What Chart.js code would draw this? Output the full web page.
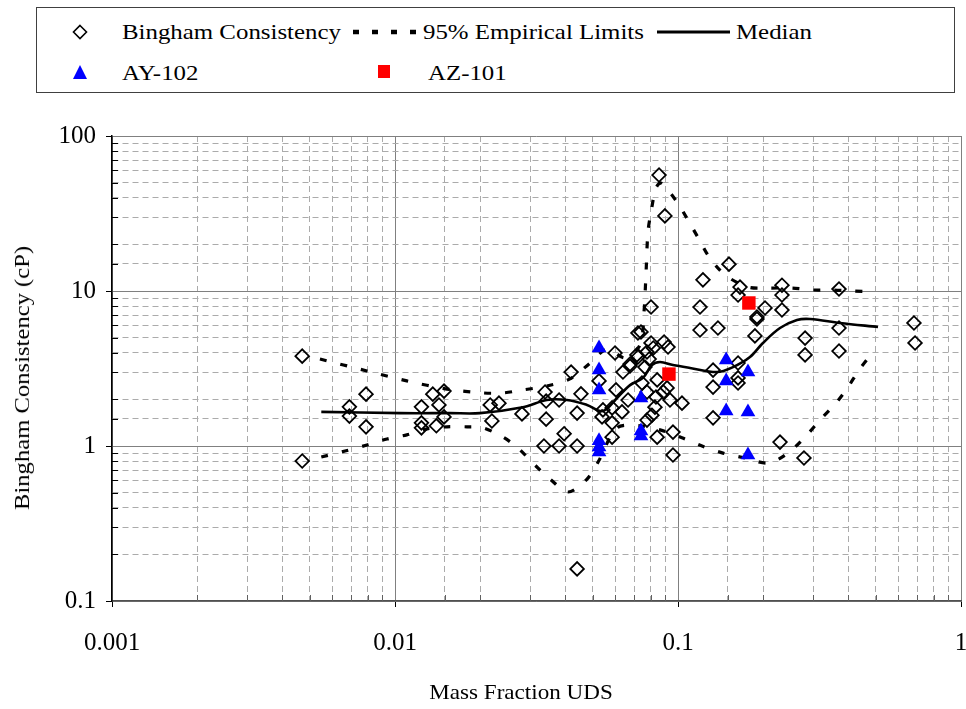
<!DOCTYPE html>
<html>
<head>
<meta charset="utf-8">
<script src="https://cdn.jsdelivr.net/npm/chart.js@4.4.1/dist/chart.umd.min.js"></script>
<style>
  html, body { margin: 0; padding: 0; background: #fff; }
  #wrap { position: relative; width: 966px; height: 709px; overflow: hidden;
          font-family: "Liberation Serif", "Times New Roman", serif; color: #000; }
  #chart { position: absolute; left: 0; top: 0; }
  .legend { position: absolute; left: 36px; top: 7px; width: 919px; height: 86px;
            border: 1px solid #404040; box-sizing: border-box; background: #fff; }
  .txt { position: absolute; font-size: 22px; line-height: 22px; white-space: nowrap;
         transform-origin: 0 50%; transform: translateY(-50%) scaleX(1.13); }
  .mk { position: absolute; overflow: visible; }
  .axt { position: absolute; font-size: 22px; line-height: 22px; white-space: nowrap; }
</style>
</head>
<body>
<div id="wrap">
  <canvas id="chart" width="966" height="709"></canvas>

  <div class="legend"></div>
  <!-- legend, row 1 -->
  <svg class="mk" style="left:72px;top:24px" width="16" height="16">
    <polygon points="8,1.5 14.5,8 8,14.5 1.5,8" fill="#fff" stroke="#000" stroke-width="1.6"/>
  </svg>
  <div class="txt" style="left:122px;top:32px">Bingham Consistency</div>
  <svg class="mk" style="left:350px;top:28px" width="74" height="8">
    <line x1="3" y1="4" x2="72" y2="4" stroke="#000" stroke-width="4.5" stroke-dasharray="6 13"/>
  </svg>
  <div class="txt" style="left:423px;top:32px">95% Empirical Limits</div>
  <svg class="mk" style="left:657px;top:29px" width="74" height="6">
    <line x1="0" y1="3" x2="73" y2="3" stroke="#000" stroke-width="3"/>
  </svg>
  <div class="txt" style="left:736px;top:32px">Median</div>
  <!-- legend, row 2 -->
  <svg class="mk" style="left:72px;top:64px" width="16" height="16">
    <polygon points="8,1 15,15 1,15" fill="#0000ff"/>
  </svg>
  <div class="txt" style="left:122px;top:73px">AY-102</div>
  <svg class="mk" style="left:378px;top:65px" width="12" height="13">
    <rect x="0" y="0" width="12" height="13" fill="#ff0000"/>
  </svg>
  <div class="txt" style="left:428px;top:73px">AZ-101</div>

  <!-- axis titles -->
  <div class="axt" id="ytitle" style="left:22px;top:378px;transform:translate(-50%,-50%) rotate(-90deg) scaleX(1.12)">Bingham Consistency (cP)</div>
  <div class="axt" id="xtitle" style="left:521px;top:692px;transform:translate(-50%,-50%) scaleX(1.05)">Mass Fraction UDS</div>
</div>

<script>
// Measured Bingham consistency (cP) against undissolved solids mass fraction
const binghamX = [
  0.0047, 0.0047, 0.0069, 0.0069, 0.0079, 0.0079,
  0.0124, 0.0136, 0.0149, 0.0143, 0.0149, 0.0124, 0.0124, 0.0140,
  0.0217, 0.0233, 0.0220, 0.0281, 0.0339, 0.0342, 0.0380, 0.0342,
  0.0419, 0.0454, 0.0440, 0.0396, 0.0336, 0.0380, 0.0440, 0.0440,
  0.0599, 0.0722, 0.0716, 0.0677, 0.0639, 0.0604, 0.0585, 0.0539,
  0.0585, 0.0585, 0.0526,
  0.0803, 0.0740, 0.0893, 0.0803, 0.0818, 0.0777, 0.0922, 0.0722,
  0.0791, 0.0677, 0.0764, 0.0844, 0.0746, 0.0915, 0.0887, 0.0777,
  0.0836, 0.0937, 0.1033, 0.0666, 0.0543, 0.0634, 0.0829, 0.0809,
  0.0777, 0.0844, 0.0960, 0.0960, 0.0857, 0.0899,
  0.1514, 0.1225, 0.1656, 0.2330, 0.1630, 0.2330, 0.1196, 0.2030,
  0.2330, 0.1901, 0.1901, 0.1384, 0.1196, 0.1870, 0.2812, 0.2812,
  0.1630, 0.1330, 0.1630, 0.1630, 0.1330, 0.1330, 0.2293, 0.2787,
  0.3706, 0.3706, 0.3706, 0.682, 0.688
];
const binghamY = [
  3.8, 0.80, 1.79, 1.56, 2.16, 1.33,
  1.79, 2.16, 2.26, 1.84, 1.54, 1.41, 1.31, 1.35,
  1.84, 1.89, 1.45, 1.61, 2.23, 1.95, 1.98, 1.49,
  3.00, 2.17, 1.63, 1.20, 1.00, 1.00, 1.00, 0.161,
  3.98, 5.36, 3.87, 3.38, 3.00, 2.30, 1.76, 1.54,
  1.41, 1.14, 2.63,
  7.88, 5.44, 4.69, 4.62, 4.29, 4.04, 4.35, 3.75,
  3.64, 3.28, 3.23, 2.67, 2.55, 2.37, 2.23, 2.23,
  2.07, 1.98, 1.89, 1.98, 1.71, 1.66, 1.78, 1.58,
  1.47, 1.14, 1.23, 0.875, 56, 30.5,
  14.9, 11.8, 10.6, 10.9, 9.42, 9.42, 7.88, 7.77,
  7.54, 6.80, 6.60, 5.77, 5.60, 5.13, 4.97, 3.87,
  3.43, 3.09, 2.75, 2.55, 2.40, 1.52, 1.06, 0.837,
  10.3, 5.77, 4.10, 6.22, 4.62
];

// Tank AY-102 samples
const ay102X = [0.0526, 0.0526, 0.0526, 0.0526, 0.0526, 0.0526,
                0.0740, 0.0740, 0.0740,
                0.148, 0.148, 0.148,
                0.1767, 0.1767, 0.1767];
const ay102Y = [4.29, 3.09, 2.30, 1.08, 0.985, 0.915,
                2.04, 1.25, 1.16,
                3.59, 2.63, 1.68,
                3.00, 1.66, 0.875];

// Tank AZ-101 samples
const az101X = [0.0929, 0.178];
const az101Y = [2.91, 8.37];

// Running median
const medianX = [0.00549, 0.01042, 0.01564, 0.01996, 0.0283, 0.0344, 0.0405, 0.0477,
                 0.0543, 0.0609, 0.0677, 0.0752, 0.0809, 0.0864, 0.0960, 0.1103,
                 0.1374, 0.1564, 0.1796, 0.1996, 0.2293, 0.2633, 0.2927, 0.3735, 0.509];
const medianY = [1.66, 1.63, 1.63, 1.63, 1.78, 1.98, 1.98, 1.84,
                 1.68, 2.04, 2.47, 2.75, 3.33, 3.48, 3.33, 3.19,
                 3.00, 3.23, 3.75, 4.62, 5.77, 6.50, 6.60, 6.22, 5.86];

// Upper 95% empirical limit
const upperX = [0.00543, 0.00796, 0.01101, 0.01527, 0.0205, 0.0241, 0.0283, 0.0344,
                0.0415, 0.0489, 0.0561, 0.0650, 0.0734, 0.0758, 0.0771, 0.0783,
                0.0803, 0.0836, 0.0871, 0.0992, 0.1084, 0.1186, 0.1288, 0.1466,
                0.1767, 0.208, 0.253, 0.300, 0.353, 0.415, 0.489];
const upperY = [3.64, 3.05, 2.63, 2.33, 2.20, 2.20, 2.30, 2.44,
                2.71, 3.43, 4.22, 3.70, 4.48, 7.21, 13.1, 24.0,
                32.3, 46.2, 49.7, 37.5, 28.7, 21.6, 16.6, 12.7,
                10.6, 10.45, 10.45, 10.15, 10.15, 10.0, 9.86];

// Lower 95% empirical limit
const lowerX = [0.00549, 0.00666, 0.00796, 0.00937, 0.01101, 0.01298, 0.01527, 0.01796,
                0.0205, 0.0241, 0.0272, 0.0312, 0.0353, 0.0409, 0.0477, 0.0522,
                0.0609, 0.0734, 0.0864, 0.1033, 0.1216, 0.1442, 0.1726, 0.208,
                0.2447, 0.2857, 0.3175, 0.3615, 0.399, 0.436, 0.489];
const lowerY = [0.849, 0.928, 1.015, 1.11, 1.18, 1.29, 1.33, 1.33,
                1.31, 1.14, 0.97, 0.754, 0.612, 0.505, 0.612, 0.788,
                1.31, 1.35, 1.27, 1.13, 1.00, 0.90, 0.837, 0.777,
                0.90, 1.18, 1.47, 1.89, 2.40, 3.09, 4.04];

// Decade tick labels
const xTickLabels = ['0.001', '0.01', '0.1', '1'];
const yTickLabels = ['0.1', '1', '10', '100'];

const pts = (xs, ys) => xs.map((x, i) => ({ x, y: ys[i] }));
const isDecade = v => Math.abs(Math.log10(v) - Math.round(Math.log10(v))) < 1e-6;
const decadeLabel = (v, labels) => {
  if (!isDecade(v)) return '';
  const s = Number(v.toPrecision(1)).toString();
  return labels.includes(s) ? s : '';
};

// Short black ticks on the inner side of the axes at the 2..9 positions
const innerMinorTicks = {
  id: 'innerMinorTicks',
  beforeDatasetsDraw(chart) {
    const { ctx, chartArea: a, scales: { x, y } } = chart;
    ctx.save();
    ctx.lineWidth = 1;
    ctx.strokeStyle = '#000';
    y.ticks.forEach(t => {
      if (isDecade(t.value)) return;
      const py = Math.round(y.getPixelForValue(t.value)) + 0.5;
      ctx.beginPath(); ctx.moveTo(a.left, py); ctx.lineTo(a.left + 6, py); ctx.stroke();
    });
    ctx.strokeStyle = '#606060';
    x.ticks.forEach(t => {
      if (isDecade(t.value)) return;
      const px = Math.round(x.getPixelForValue(t.value)) + 0.5;
      ctx.beginPath(); ctx.moveTo(px, a.bottom); ctx.lineTo(px, a.bottom - 6); ctx.stroke();
    });
    ctx.restore();
  }
};

const gridOpts = {
  color: c => (c.tick && isDecade(c.tick.value)) ? '#808080' : '#ababab',
  lineWidth: 1,
  tickColor: c => (c.tick && isDecade(c.tick.value)) ? '#000' : 'rgba(0,0,0,0)',
  tickLength: 6
};
const borderDash = c => (c.tick && !isDecade(c.tick.value)) ? [6, 4] : [];
const tickFont = { family: '"Liberation Serif", "Times New Roman", serif', size: 25 };

new Chart(document.getElementById('chart'), {
  type: 'scatter',
  data: {
    datasets: [
      {
        label: 'AZ-101',
        data: pts(az101X, az101Y),
        pointStyle: 'rect', pointRadius: 9.5,
        backgroundColor: '#ff0000', borderColor: '#ff0000', borderWidth: 0
      },
      {
        label: 'AY-102',
        data: pts(ay102X, ay102Y),
        pointStyle: 'triangle', pointRadius: 8.5,
        backgroundColor: '#0000ff', borderColor: '#0000ff', borderWidth: 0
      },
      {
        label: 'Median',
        data: pts(medianX, medianY),
        showLine: true, tension: 0.35, pointRadius: 0,
        borderColor: '#000', borderWidth: 2.6, fill: false
      },
      {
        label: '95% Empirical Limits',
        data: pts(upperX, upperY),
        showLine: true, tension: 0.3, pointRadius: 0,
        borderColor: '#000', borderWidth: 3.2, borderDash: [7, 14], fill: false
      },
      {
        label: '95% Empirical Limits (lower)',
        data: pts(lowerX, lowerY),
        showLine: true, tension: 0.3, pointRadius: 0,
        borderColor: '#000', borderWidth: 3.2, borderDash: [7, 14], fill: false
      },
      {
        label: 'Bingham Consistency',
        data: pts(binghamX, binghamY),
        pointStyle: 'rectRot', pointRadius: 6.8,
        backgroundColor: 'rgba(255,255,255,0)', borderColor: '#000', borderWidth: 1.8
      }
    ]
  },
  options: {
    responsive: false,
    animation: false,
    devicePixelRatio: 1,
    layout: { autoPadding: false, padding: { left: 0, right: 5, top: 136, bottom: 0 } },
    plugins: { legend: { display: false }, tooltip: { enabled: false } },
    scales: {
      x: {
        type: 'logarithmic', min: 0.001, max: 1,
        grid: gridOpts,
        border: { display: true, color: '#505050', width: 1.5, dash: borderDash },
        ticks: {
          autoSkip: false, maxRotation: 0, minRotation: 0, padding: 21,
          color: '#000', font: tickFont,
          callback: v => decadeLabel(v, xTickLabels)
        },
        afterFit: s => { s.height = 108; s.paddingLeft = 0; s.paddingRight = 0; }
      },
      y: {
        type: 'logarithmic', min: 0.1, max: 100,
        grid: gridOpts,
        border: { display: true, color: '#000', width: 1.5, dash: borderDash },
        ticks: {
          autoSkip: false, padding: 10,
          color: '#000', font: tickFont,
          callback: v => decadeLabel(v, yTickLabels)
        },
        afterFit: s => { s.width = 112; s.paddingTop = 0; s.paddingBottom = 0; }
      }
    }
  },
  plugins: [innerMinorTicks]
});
</script>
</body>
</html>
